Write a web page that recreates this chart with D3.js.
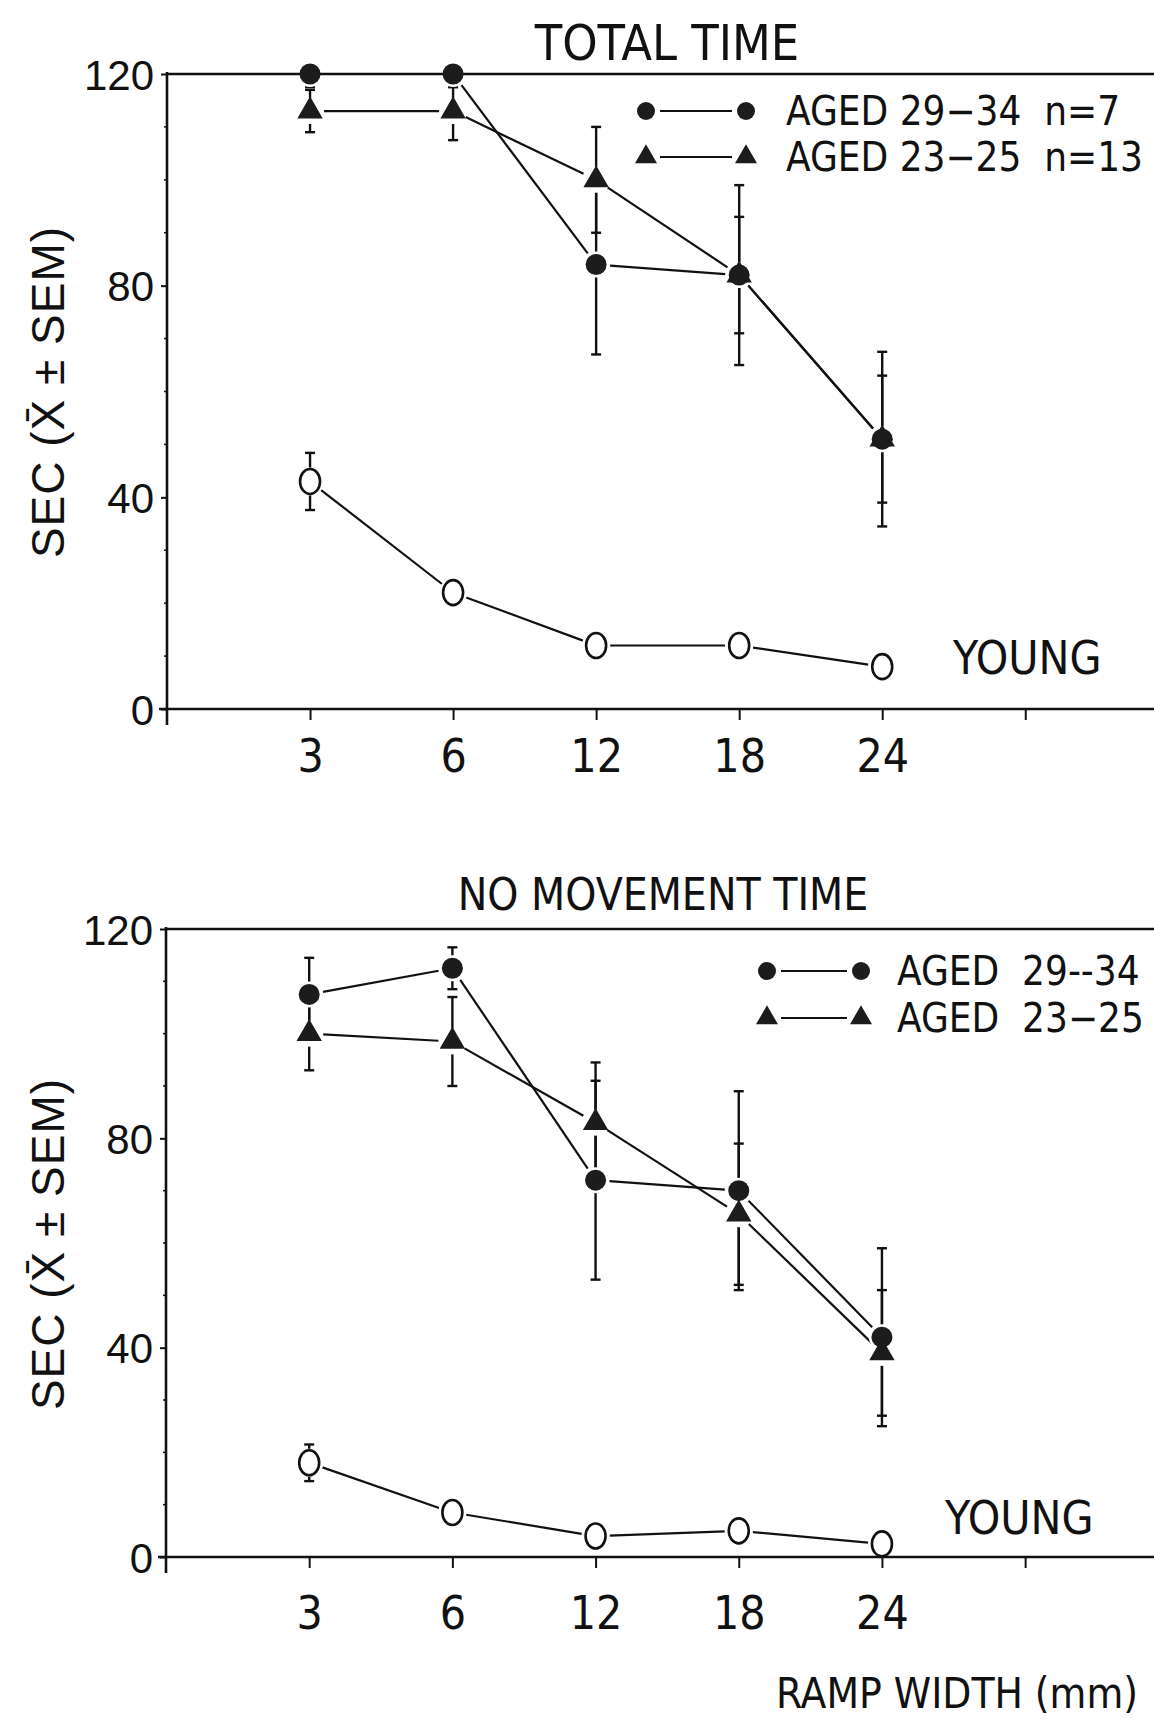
<!DOCTYPE html>
<html>
<head>
<meta charset="utf-8">
<script src="https://cdn.jsdelivr.net/npm/d3@7"></script>
<style>
  html, body { margin: 0; padding: 0; background: #fff; }
  svg { display: block; }
  text { fill: #111; }
  .narrow { font-family: "Liberation Sans Narrow", "DejaVu Sans Condensed", "Arial Narrow", sans-serif; }
  .reg { font-family: "Liberation Sans", Arial, sans-serif; }
</style>
</head>
<body>
<script>
// ---------- data ----------
const rampWidths = ["3", "6", "12", "18", "24"];
const xTickLabels = ["3", "6", "12", "18", "24", ""];
const yTickValues = [0, 40, 80, 120];

// TOTAL TIME
const totalAged2934 = [120, 120, 84, 82, 51];
const totalAged2934Sem = [2.5, 2.5, 17, 17, 16.5];
const totalAged2325 = [113, 113, 100, 82, 51];
const totalAged2325Sem = [4, 5.5, 10, 11, 12];
const totalYoung = [43, 22, 12, 12, 8];
const totalYoungSem = [5.4, 0, 0, 0, 0];

// NO MOVEMENT TIME
const noMoveAged2934 = [107.5, 112.5, 72, 70, 42];
const noMoveAged2934Sem = [7, 4, 19, 19, 17];
const noMoveAged2325 = [100, 98.5, 83, 65.5, 39];
const noMoveAged2325Sem = [7, 8.5, 11.5, 13.5, 12];
const noMoveYoung = [18, 8.5, 4, 5, 2.5];
const noMoveYoungSem = [3.5, 0, 0, 0, 0];

// ---------- drawing ----------
const W = 1154, H = 1719;
const svg = d3.select("body").append("svg").attr("width", W).attr("height", H);

const INK = "#111";
const FILL = "#1c1c1c";

function drawPanel(cfg) {
  const g = svg.append("g");
  const x = d3.scaleLinear().domain([0, 6.9]).range([cfg.left, W]);
  const y = d3.scaleLinear().domain([0, 120]).range([cfg.bottom, cfg.top]);
  const xi = i => x(i + 1);

  const series = [
    { vals: cfg.aged2934, sem: cfg.aged2934Sem, kind: "circle" },
    { vals: cfg.aged2325, sem: cfg.aged2325Sem, kind: "triangle" },
    { vals: cfg.young, sem: cfg.youngSem, kind: "open" }
  ];

  // connecting lines, with a gap near the markers
  const gap = 14;
  series.forEach(s => {
    for (let i = 0; i < s.vals.length - 1; i++) {
      const x1 = xi(i), y1 = y(s.vals[i]), x2 = xi(i + 1), y2 = y(s.vals[i + 1]);
      const L = Math.hypot(x2 - x1, y2 - y1);
      const ux = (x2 - x1) / L, uy = (y2 - y1) / L;
      g.append("line")
        .attr("x1", x1 + ux * gap).attr("y1", y1 + uy * gap)
        .attr("x2", x2 - ux * gap).attr("y2", y2 - uy * gap)
        .attr("stroke", INK).attr("stroke-width", 2.2);
    }
  });

  // error bars
  series.forEach(s => {
    s.vals.forEach((v, i) => {
      const e = s.sem[i];
      if (!e) return;
      const hi = Math.min(120, v + e), lo = Math.max(0, v - e);
      const cx = xi(i);
      g.append("line").attr("x1", cx).attr("x2", cx)
        .attr("y1", y(hi)).attr("y2", y(lo))
        .attr("stroke", INK).attr("stroke-width", 2.4);
      [hi, lo].forEach(t => {
        g.append("line").attr("x1", cx - 5).attr("x2", cx + 5)
          .attr("y1", y(t)).attr("y2", y(t))
          .attr("stroke", INK).attr("stroke-width", 2.4);
      });
    });
  });

  // halos (white gaps around markers)
  series.forEach(s => {
    s.vals.forEach((v, i) => {
      g.append("circle").attr("cx", xi(i)).attr("cy", y(v)).attr("r", s.kind === "open" ? 14 : 13)
        .attr("fill", "#fff");
    });
  });

  // axes
  const yAxis = d3.axisLeft(y).tickValues(yTickValues).tickSize(6).tickFormat(d3.format("d"));
  const yAx = g.append("g").attr("transform", `translate(${cfg.left},0)`).call(yAxis);
  yAx.select(".domain").remove();
  yAx.selectAll(".tick line").attr("stroke", INK).attr("stroke-width", 2);
  yAx.selectAll(".tick text").attr("class", "reg").attr("font-size", 42).attr("x", -13)
    .attr("dy", "0.36em").attr("fill", INK);
  // minor ticks every 10
  g.selectAll(".minor").data(d3.range(10, 120, 10).filter(v => v % 40 !== 0)).join("line")
    .attr("x1", cfg.left - 3).attr("x2", cfg.left).attr("y1", d => y(d)).attr("y2", d => y(d))
    .attr("stroke", INK).attr("stroke-width", 1.5);
  // left axis line
  g.append("line").attr("x1", cfg.left).attr("x2", cfg.left)
    .attr("y1", y(120) - 2).attr("y2", y(0) + 16).attr("stroke", INK).attr("stroke-width", 2.6);
  // top frame line (at 120)
  g.append("line").attr("x1", cfg.left).attr("x2", W)
    .attr("y1", y(120)).attr("y2", y(120)).attr("stroke", INK).attr("stroke-width", 2.4);
  // bottom axis (at 0)
  g.append("line").attr("x1", cfg.left - 8).attr("x2", W)
    .attr("y1", y(0)).attr("y2", y(0)).attr("stroke", INK).attr("stroke-width", 2.6);

  const xAxis = d3.axisBottom(x).tickValues(d3.range(1, 7)).tickSize(11)
    .tickFormat(d => xTickLabels[d - 1]);
  const xAx = g.append("g").attr("transform", `translate(0,${y(0)})`).call(xAxis);
  xAx.select(".domain").remove();
  xAx.selectAll(".tick line").attr("stroke", INK).attr("stroke-width", 2);
  xAx.selectAll(".tick text").attr("class", "narrow").attr("font-size", 46)
    .attr("y", cfg.xLabelOffset).attr("dy", 0).attr("fill", INK);

  // markers
  const tri = d3.symbol().type(d3.symbolTriangle).size(280);
  series.forEach(s => {
    s.vals.forEach((v, i) => {
      const cx = xi(i), cy = y(v);
      if (s.kind === "circle") {
        g.append("circle").attr("cx", cx).attr("cy", cy).attr("r", 10.5).attr("fill", FILL);
      } else if (s.kind === "triangle") {
        g.append("path").attr("d", tri()).attr("transform", `translate(${cx},${cy})`).attr("fill", FILL);
      } else {
        g.append("ellipse").attr("cx", cx).attr("cy", cy).attr("rx", 10).attr("ry", 12.5)
          .attr("fill", "#fff").attr("stroke", INK).attr("stroke-width", 2.6);
      }
    });
  });

  // title
  svg.append("text").attr("class", "narrow").attr("x", cfg.titleX).attr("y", cfg.titleY)
    .attr("text-anchor", "middle").attr("font-size", cfg.titleSize).text(cfg.title);

  // y-axis title
  svg.append("text").attr("class", "reg")
    .attr("transform", `translate(${cfg.yTitleX},${cfg.yTitleY}) rotate(-90)`)
    .attr("text-anchor", "middle").attr("font-size", 46).attr("letter-spacing", 1)
    .text("SEC (X\u0304 \u00B1 SEM)");

  // YOUNG label
  svg.append("text").attr("class", "narrow").attr("x", cfg.youngX).attr("y", cfg.youngY)
    .attr("font-size", 46).text("YOUNG");

  // legend
  cfg.legend.forEach((row, k) => {
    const ly = cfg.legendY[k];
    g.append("line").attr("x1", cfg.legendSym1 + 14).attr("x2", cfg.legendSym2 - 14)
      .attr("y1", ly).attr("y2", ly).attr("stroke", INK).attr("stroke-width", 2);
    [cfg.legendSym1, cfg.legendSym2].forEach(sx => {
      if (k === 0) g.append("circle").attr("cx", sx).attr("cy", ly).attr("r", 9).attr("fill", FILL);
      else g.append("path").attr("d", d3.symbol().type(d3.symbolTriangle).size(210)())
        .attr("transform", `translate(${sx},${ly})`).attr("fill", FILL);
    });
    svg.append("text").attr("class", "narrow").attr("x", cfg.legendTextX).attr("y", ly + 14)
      .attr("font-size", cfg.legendSize).style("white-space", "pre").text(row);
  });
}

drawPanel({
  top: 74, bottom: 709, left: 167,
  aged2934: totalAged2934, aged2934Sem: totalAged2934Sem,
  aged2325: totalAged2325, aged2325Sem: totalAged2325Sem,
  young: totalYoung, youngSem: totalYoungSem,
  xLabelOffset: 63,
  title: "TOTAL TIME", titleX: 667, titleY: 60, titleSize: 50,
  yTitleX: 64, yTitleY: 392,
  youngX: 953, youngY: 674,
  legend: ["AGED 29\u221234  n=7", "AGED 23\u221225  n=13"],
  legendY: [111, 157], legendSym1: 646, legendSym2: 746, legendTextX: 786, legendSize: 40
});

drawPanel({
  top: 929, bottom: 1557, left: 166,
  aged2934: noMoveAged2934, aged2934Sem: noMoveAged2934Sem,
  aged2325: noMoveAged2325, aged2325Sem: noMoveAged2325Sem,
  young: noMoveYoung, youngSem: noMoveYoungSem,
  xLabelOffset: 72,
  title: "NO MOVEMENT TIME", titleX: 663, titleY: 910, titleSize: 44,
  yTitleX: 64, yTitleY: 1244,
  youngX: 945, youngY: 1534,
  legend: ["AGED  29--34", "AGED  23\u221225"],
  legendY: [971, 1018], legendSym1: 767, legendSym2: 861, legendTextX: 897, legendSize: 40
});

svg.append("text").attr("class", "narrow").attr("x", 776).attr("y", 1708)
  .attr("font-size", 42).text("RAMP WIDTH (mm)");
</script>
</body>
</html>
